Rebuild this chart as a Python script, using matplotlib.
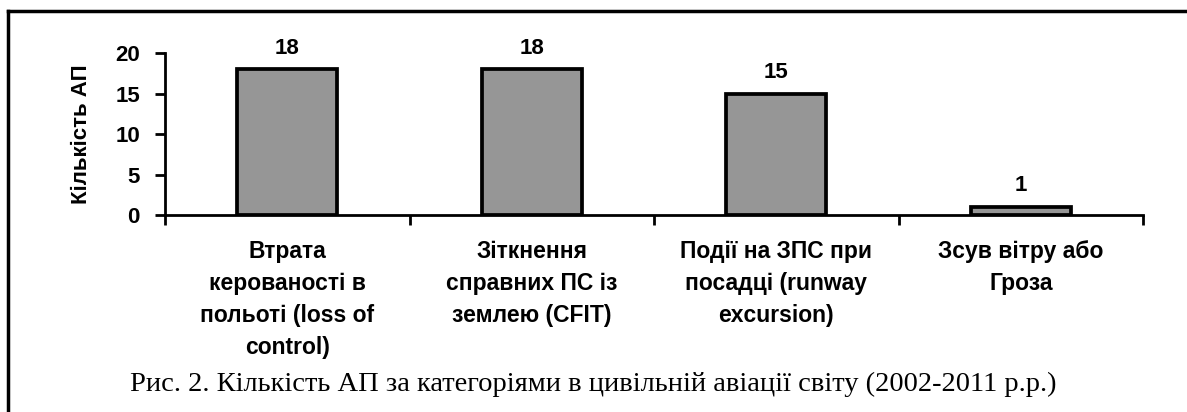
import matplotlib
matplotlib.use('Agg')
import matplotlib.pyplot as plt
import numpy as np

categories = ['Втрата\nкерованості в\nпольоті (loss of\ncontrol)',
              'Зіткнення\nсправних ПС із\nземлею (CFIT)',
              'Події на ЗПС при\nпосадці (runway\nexcursion)',
              'Зсув вітру або\nГроза']
values = [18, 18, 15, 1]
yticks = [0, 5, 10, 15, 20]
ylabel = 'Кількість АП'
caption = 'Рис. 2. Кількість АП за категоріями в цивільній авіації світу (2002-2011 р.р.)'

plt.rcParams['font.family'] = ['Liberation Sans', 'DejaVu Sans']
plt.rcParams['font.weight'] = 'bold'

fig = plt.figure(figsize=(11.87, 4.12), dpi=100)
ax = fig.add_axes([0.139, 0.478, 0.824, 0.393])

x = np.arange(len(values))
ax.bar(x, values, width=0.41, color='#969696', edgecolor='black', linewidth=2.7)
for xi, v in zip(x, values):
    ax.text(xi, v + 1.3, str(v), ha='center', va='bottom', fontsize=16, fontweight='bold')

ax.set_xlim(-0.5, len(values) - 0.5)
ax.set_ylim(0, 20)
ax.set_yticks(yticks)
ax.set_yticklabels([str(t) for t in yticks], fontsize=16, fontweight='bold')
ax.set_xticks(np.arange(len(values) + 1) - 0.5)
ax.set_xticklabels([])
ax.tick_params(axis='y', direction='out', length=7, width=2, pad=11)
ax.tick_params(axis='x', direction='out', length=7, width=2)
for xi, c in zip(x, categories):
    ax.text(xi, -3.05, c, ha='center', va='top', fontsize=16.5, fontweight='bold',
            linespacing=1.5)

ax.spines['top'].set_visible(False)
ax.spines['right'].set_visible(False)
ax.spines['left'].set_linewidth(2)
ax.spines['bottom'].set_linewidth(2)
ax.set_ylabel(ylabel, fontsize=16, fontweight='bold', labelpad=17)

fig.text(0.5, 1 - 391 / 412, caption, ha='center', va='baseline', fontsize=20.5,
         family=['Liberation Serif', 'DejaVu Serif'], fontweight='normal')

# frame lines (top and left only)
fig.add_artist(plt.Line2D([8 / 1187, 1.0], [1 - 11 / 412, 1 - 11 / 412], color='black', lw=2.5))
fig.add_artist(plt.Line2D([8 / 1187, 8 / 1187], [0.0, 1 - 11 / 412], color='black', lw=2.5))

fig.savefig('out.png', dpi=100)
